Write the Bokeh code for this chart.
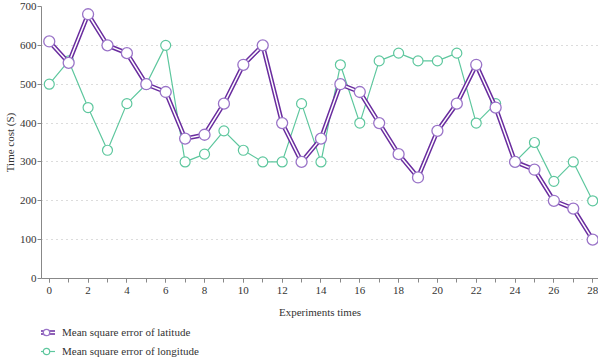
from bokeh.plotting import figure
from bokeh.layouts import column
from bokeh.models import (Legend, LegendItem, SingleIntervalTicker, ColumnDataSource, Range1d)
from bokeh.embed import file_html
from bokeh.resources import INLINE

x = list(range(29))
latitude = [610, 555, 680, 600, 580, 500, 480, 360, 370, 450, 550, 600, 400, 300, 360,
            500, 480, 400, 320, 260, 380, 450, 550, 440, 300, 280, 200, 180, 100]
longitude = [500, 560, 440, 330, 450, 500, 600, 300, 320, 380, 330, 300, 300, 450, 300,
             550, 400, 560, 580, 560, 560, 580, 400, 450, 300, 350, 250, 300, 200]
lat_label = "Mean square error of latitude"
lon_label = "Mean square error of longitude"
x_title = "Experiments times"
y_title = "Time cost (S)"

FONT = "Liberation Serif"
PURPLE = "#6a2d9f"
PURPLE_M = "#9a74c8"
GREEN = "#5ec79e"
W = 598

src = ColumnDataSource(dict(x=x, lat=latitude, lon=longitude))


def draw_series(fig):
    g_line = fig.line("x", "lon", source=src, line_color=GREEN, line_width=1.2)
    g_pts = fig.scatter("x", "lon", source=src, size=10, fill_color="white",
                        line_color=GREEN, line_width=1.2)
    l_outer = fig.line("x", "lat", source=src, line_color=PURPLE, line_width=4.5)
    l_inner = fig.line("x", "lat", source=src, line_color="white", line_width=1.5)
    l_pts = fig.scatter("x", "lat", source=src, size=11, fill_color="white",
                        line_color=PURPLE_M, line_width=1.3)
    return (g_line, g_pts), (l_outer, l_inner, l_pts)


p = figure(width=W, height=320, output_backend="svg", toolbar_location=None,
           x_range=Range1d(-0.4, 28.3), y_range=Range1d(0, 700),
           min_border_top=6, min_border_left=0, min_border_right=0, min_border_bottom=0)
p.outline_line_color = None

p.xgrid.grid_line_color = None
p.ygrid.grid_line_color = "#b8b8b8"
p.ygrid.grid_line_dash = "1 4"
p.ygrid.grid_line_width = 1

for ax in (p.xaxis[0], p.yaxis[0]):
    ax.axis_line_color = "#888888"
    ax.major_tick_line_color = "#888888"
    ax.minor_tick_line_color = "#888888"
    ax.major_tick_in = 0
    ax.major_tick_out = 4
    ax.minor_tick_in = 0
    ax.minor_tick_out = 4
    ax.major_label_text_font = FONT
    ax.major_label_text_font_size = "11px"
    ax.major_label_text_color = "#333333"
    ax.axis_label_text_font = FONT
    ax.axis_label_text_font_size = "11px"
    ax.axis_label_text_font_style = "normal"
    ax.axis_label_text_color = "#333333"

p.xaxis.ticker = SingleIntervalTicker(interval=2, num_minor_ticks=2)
p.yaxis.ticker = SingleIntervalTicker(interval=100, num_minor_ticks=0)
p.yaxis.minor_tick_line_color = None
p.xaxis.axis_label = x_title
p.yaxis.axis_label = y_title
p.xaxis.major_label_standoff = 4
p.xaxis.axis_label_standoff = 9
p.yaxis.major_label_standoff = 1
p.yaxis.axis_label_standoff = 1

draw_series(p)

# legend strip below the chart (its own copies of the series fall outside its view)
q = figure(width=W, height=39, output_backend="svg", toolbar_location=None,
           x_range=Range1d(1000, 1001), y_range=Range1d(10000, 10001),
           x_axis_location=None, y_axis_location=None,
           min_border=0)
q.outline_line_color = None
q.xgrid.grid_line_color = None
q.ygrid.grid_line_color = None
(g_line, g_pts), (l_outer, l_inner, l_pts) = draw_series(q)

legend = Legend(items=[LegendItem(label=lat_label, renderers=[l_outer, l_inner, l_pts]),
                       LegendItem(label=lon_label, renderers=[g_line, g_pts])],
                location=(-4, 0), orientation="vertical")
legend.label_text_font = FONT
legend.label_text_font_size = "11px"
legend.label_text_color = "#333333"
legend.background_fill_alpha = 0
legend.border_line_color = None
legend.glyph_width = 18
legend.label_standoff = 7
legend.spacing = 3
legend.label_height = 16
legend.glyph_height = 16
legend.padding = 0
legend.margin = 0
q.add_layout(legend, "center")

layout = column(p, q, spacing=0)
open("out.html", "w").write(file_html(layout, INLINE))
